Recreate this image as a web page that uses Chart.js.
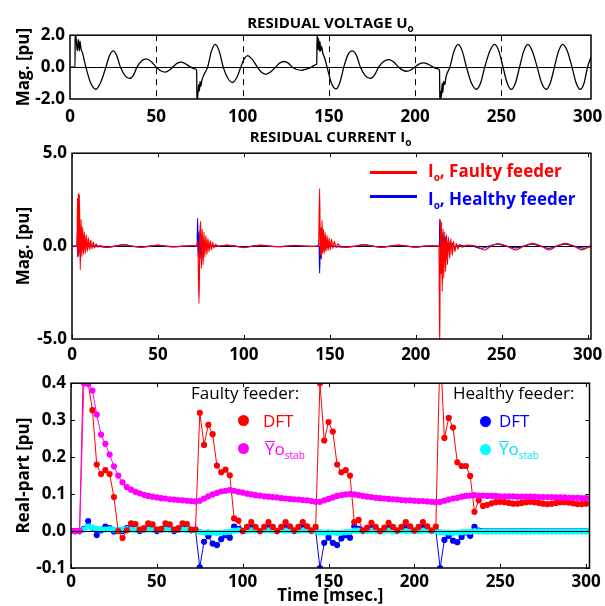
<!DOCTYPE html>
<html>
<head>
<meta charset="utf-8">
<script src="https://cdn.jsdelivr.net/npm/chart.js@4.4.1/dist/chart.umd.min.js"></script>
<style>
html, body { margin: 0; padding: 0; background: #fff; overflow: hidden; }
#wrap { position: relative; width: 605px; height: 606px; overflow: hidden; font-family: 'Open Sans', sans-serif; }
canvas { position: absolute; left: 0; }
.title { position: absolute; left: 70px; width: 521px; text-align: center; font-weight: bold; font-size: 15px; line-height: 15px; color: #000; }
.txt { position: absolute; white-space: nowrap; line-height: 17px; }
sub { font-size: 10px; line-height: 0; vertical-align: -4px; }
.lg2 { font-weight: bold; font-size: 17px; }
.lg3 { font-size: 17px; }
.line { position: absolute; width: 47px; height: 0; border-top: 3px solid; }
.dot { position: absolute; width: 11px; height: 11px; border-radius: 50%; }
.ov { display: inline-block; border-top: 1.5px solid; line-height: 13px; }
</style>
</head>
<body>
<div id="wrap">
  <canvas id="c1" width="640" height="108" style="top:20px"></canvas>
  <canvas id="c2" width="640" height="230" style="top:138px"></canvas>
  <canvas id="c3" width="640" height="238" style="top:368px"></canvas>

  <div class="title" style="top:15px">RESIDUAL VOLTAGE U<sub>o</sub></div>
  <div class="title" style="top:129px">RESIDUAL CURRENT I<sub>o</sub></div>

  <div class="line" style="left:370px; top:171px; border-color:#ff0000"></div>
  <div class="txt lg2" style="left:428px; top:162px; color:#ff0000">I<sub>o</sub>, Faulty feeder</div>
  <div class="line" style="left:370px; top:195px; border-color:#0000ff"></div>
  <div class="txt lg2" style="left:428px; top:190px; color:#0000ff">I<sub>o</sub>, Healthy feeder</div>

  <div class="txt lg3" style="left:191px; top:384px; color:#000">Faulty feeder:</div>
  <div class="dot" style="left:238px; top:415px; background:#ff0000"></div>
  <div class="txt lg3" style="left:263px; top:412px; color:#ff0000">DFT</div>
  <div class="dot" style="left:238px; top:443px; background:#ff00ff"></div>
  <div class="txt lg3" style="left:265px; top:440px; color:#ff00ff"><span class="ov">Y</span>o<sub>stab</sub></div>

  <div class="txt lg3" style="left:453px; top:384px; color:#000">Healthy feeder:</div>
  <div class="dot" style="left:480px; top:416px; background:#0000ff"></div>
  <div class="txt lg3" style="left:499px; top:412px; color:#0000ff">DFT</div>
  <div class="dot" style="left:480px; top:444px; background:#00ffff"></div>
  <div class="txt lg3" style="left:499px; top:440px; color:#00e8f0"><span class="ov">Y</span>o<sub>stab</sub></div>
</div>
<script>
// x axis (time, ms)
const xTicks = [0, 50, 100, 150, 200, 250, 300];
const dashedLines = [50, 100, 150, 200, 250];

// Residual voltage Uo (key points)
const voltT = [0, 2.9, 3.0, 3.5, 4.2, 4.8, 5.4, 5.8, 6.4, 7.2, 8.1, 9.2,
  12, 15, 18, 20.8, 23, 25, 27, 29.2, 32, 34.6, 36.8, 38.8, 41.5, 44.2, 47, 50, 52.5, 55.2, 57.5, 59.6, 62, 64.4, 67, 70,
  72, 73.4, 73.6, 74.2, 74.6, 75.0, 75.4, 75.8, 76.5, 78,
  79.8, 82, 84.2, 86.5, 88.8, 91.5, 94.2, 96.7, 99, 101, 102.9, 105.5, 108.6, 111, 113.5, 116.3, 119.2, 121.5, 124, 126.5, 128.8, 131.5, 134.2, 137, 140,
  142.3, 143, 143.3, 143.7, 144.1, 144.5, 144.9, 145.3, 145.8, 146.5, 147.8,
  149, 151.5, 154.2, 156.5, 158.7, 161, 163.5, 166, 168.3, 171, 174, 176.5, 178.9, 181.8, 184.6, 187.5, 190.4, 192.8, 195.2, 197.5, 199.8, 202.3, 204.8, 207.5, 210.6,
  213, 214.2, 214.4, 214.9, 215.3, 215.7, 216.1, 216.6, 217.2, 218,
  220.2, 222.6, 225, 227.4, 229.8, 232.7, 235.6, 238, 240.4, 243.3, 246.2, 248.6, 251, 253.4, 255.8, 258.2, 260.6, 263, 265.4, 268, 270.8, 273.4, 276, 278.4, 280.8, 283.2, 285.6, 288.3, 291, 293.4, 295.8, 298, 300, 302];
const voltV = [0, 0, 2.3, 1.84, 1.02, 1.73, 1.02, 1.63, 1.12, 0.92, 0.5, 0,
  -1.0, -1.39, -0.9, 0, 0.75, 1.02, 0.75, 0, -0.55, -0.71, -0.5, 0, 0.38, 0.51, 0.35, 0, -0.23, -0.31, -0.2, 0, 0.23, 0.31, 0.2, 0,
  -0.1, -0.2, -2.3, -1.6, -1.1, -1.5, -0.9, -1.2, -0.8, -0.4,
  0, 1.0, 1.43, 1.0, 0, -0.7, -0.96, -0.65, 0, 0.52, 0.72, 0.5, 0, -0.33, -0.45, -0.3, 0, 0.25, 0.35, 0.25, 0, -0.15, -0.2, -0.12, 0,
  0.14, 0.2, 2.3, 1.1, 1.8, 1.0, 1.6, 1.0, 1.3, 0.9, 0.5,
  0, -1.0, -1.37, -0.95, 0, 0.75, 1.02, 0.75, 0, -0.52, -0.71, -0.5, 0, 0.35, 0.47, 0.33, 0, -0.19, -0.26, -0.18, 0, 0.19, 0.27, 0.19, 0,
  -0.1, -0.2, -2.3, -1.5, -1.9, -1.0, -1.6, -0.9, -1.1, -0.6,
  0, 1.0, 1.43, 1.0, 0, -1.0, -1.39, -1.0, 0, 1.0, 1.43, 1.0, 0, -1.0, -1.4, -1.0, 0, 1.0, 1.43, 1.0, 0, -1.0, -1.4, -1.0, 0, 1.0, 1.43, 1.0, 0, -1.0, -1.4, -1.0, 0, 0.65];

// Residual current Io, faulty feeder
const faultyT = [0, 3.0, 3.2, 3.45, 3.7, 4.0, 4.3, 4.8, 5.3, 5.7, 6.2, 6.7, 7.2, 7.7, 8.3, 8.9, 9.5, 10.2, 10.9, 11.6,
  12.4, 13.2, 14.1, 15.0, 16, 17.5, 20, 25, 30, 35, 40, 45, 50, 55, 60, 65, 70,
  72.5, 73.2, 73.9, 74.4, 74.9, 75.3, 75.8, 76.3, 76.8, 77.3, 77.9, 78.5, 79.1, 79.7, 80.4, 81.1, 81.8, 82.6, 83.5, 85,
  90, 95, 100, 105, 110, 115, 120, 125, 130, 135, 140,
  142.5, 143.5, 144.1, 144.5, 144.9, 145.2, 145.5, 145.9, 146.3, 146.8, 147.3, 147.8, 148.4, 149, 149.6, 150.3, 151, 151.8, 152.7, 153.6,
  154.6, 156, 159, 165, 170, 175, 180, 185, 190, 195, 200, 205, 210,
  213.5, 214.0, 214.3, 214.7, 215.0, 215.4, 215.9, 216.3, 216.9, 217.4, 217.9, 218.5, 219.0, 219.8, 220.4, 221.3, 222.0, 222.8, 223.6, 224.6,
  225.6, 227, 230, 235, 240, 244, 247.7, 253, 258.3, 263, 267.9, 273, 277.6, 282, 287.2, 292, 296.8, 302];
const faultyI = [0, 0, 2.6, -0.6, 2.85, -0.4, 2.8, -1.28, 1.44, -0.57, 1.03, -0.45, 0.77, -0.39, 0.6, -0.3, 0.44, -0.2, 0.32, -0.15,
  0.22, -0.1, 0.12, -0.05, 0.03, 0, -0.07, 0, 0.08, 0, -0.07, 0, 0.05, -0.01, -0.04, 0, 0.02,
  0, 0.3, -3.1, 0.5, 1.35, -1.2, 0.9, -1.0, 0.75, -0.6, 0.55, -0.45, 0.4, -0.3, 0.3, -0.2, 0.2, -0.1, 0.1, 0,
  0.05, 0, -0.08, 0, 0.05, 0, -0.03, 0, 0.04, 0, -0.02,
  0, 0.1, 3.1, -0.5, 1.0, -0.65, 1.38, -0.4, 0.9, -0.39, 0.76, -0.3, 0.58, -0.25, 0.45, -0.2, 0.37, -0.12, 0.25, -0.08,
  0.12, 0, -0.06, 0, 0.08, 0, -0.07, 0, 0.05, 0, -0.06, 0, 0.01,
  0, -5.5, 1.44, -1.5, 1.3, -2.44, 0.94, -1.73, 0.77, -1.37, 0.6, -1.0, 0.5, -0.66, 0.4, -0.48, 0.25, -0.3, 0.15, -0.15,
  0.1, -0.05, 0.05, 0.0, -0.21, 0, 0.14, 0, -0.21, 0, 0.15, 0, -0.21, 0, 0.15, 0, -0.2, 0.05];

// Residual current Io, healthy feeder
const healthyT = [0, 2.9, 3.1, 3.35, 3.6, 3.9, 4.2, 4.6, 5.2, 5.8, 6.6, 7.5, 8.5, 10, 12, 15, 20, 25, 30, 35, 40, 45, 50, 55, 60, 65, 70,
  72.8, 73.1, 73.5, 74.0, 74.5, 75.1, 75.7, 76.4, 77.1, 77.9, 79, 80.5, 85, 90, 95, 100, 105, 110, 115, 120, 125, 130, 135, 140,
  143.8, 144.1, 144.5, 145.0, 145.4, 145.9, 146.5, 147.2, 148, 149, 150, 152, 159, 165, 170, 175, 180, 185, 190, 195, 200, 205, 210,
  213.8, 214.0, 214.4, 214.9, 215.4, 215.9, 216.5, 217.2, 218, 219, 220, 221.2, 222.5, 225, 230, 233, 238, 242.8, 247.5, 252.5,
  258, 263, 267.5, 272.5, 277.5, 282, 286.8, 292, 298, 302];
const healthyI = [0, 0, 0.77, -0.57, 0.6, -0.5, 0.3, -0.3, 0.3, -0.2, 0.15, -0.1, 0.08, -0.03, 0.02, 0, -0.07, 0, 0.07, 0, -0.06, 0, 0.04, 0, -0.03, 0, 0.02,
  0, 1.5, -0.6, 0.8, -0.7, 0.4, -0.4, 0.25, -0.2, 0.1, -0.05, 0.02, 0, 0.04, 0, -0.07, 0, 0.04, 0, -0.03, 0, 0.03, 0, -0.02,
  0, -1.45, 0.5, -0.7, 0.67, -0.3, 0.4, -0.2, 0.2, -0.1, 0.05, 0, -0.06, 0, 0.07, 0, -0.06, 0, 0.04, 0, -0.05, 0, 0.01,
  0, 1.45, -0.8, 0.9, -0.6, 0.77, -0.4, 0.5, -0.3, 0.3, -0.15, 0.15, -0.05, 0.03, 0.02, 0, -0.12, 0, 0.1, 0,
  -0.1, 0, 0.1, 0, -0.12, 0, 0.11, 0, -0.11, -0.03];

// Real part estimates, sampled every 2.5 ms
const sampleT = [0, 2.5, 5, 7.5, 10, 12.5, 15, 17.5, 20, 22.5,
  25, 27.5, 30, 32.5, 35, 37.5, 40, 42.5, 45, 47.5,
  50, 52.5, 55, 57.5, 60, 62.5, 65, 67.5, 70, 72.5,
  75, 77.5, 80, 82.5, 85, 87.5, 90, 92.5, 95, 97.5,
  100, 102.5, 105, 107.5, 110, 112.5, 115, 117.5, 120, 122.5,
  125, 127.5, 130, 132.5, 135, 137.5, 140, 142.5, 145, 147.5,
  150, 152.5, 155, 157.5, 160, 162.5, 165, 167.5, 170, 172.5,
  175, 177.5, 180, 182.5, 185, 187.5, 190, 192.5, 195, 197.5,
  200, 202.5, 205, 207.5, 210, 212.5, 215, 217.5, 220, 222.5,
  225, 227.5, 230, 232.5, 235, 237.5, 240, 242.5, 245, 247.5,
  250, 252.5, 255, 257.5, 260, 262.5, 265, 267.5, 270, 272.5,
  275, 277.5, 280, 282.5, 285, 287.5, 290, 292.5, 295, 297.5,
  300];
const faultyDft = [0, 0, 0, 0.5, 0.40, 0.327, 0.18, 0.154, 0.165, 0.154,
  0.092, 0.0, -0.019, 0.002, 0.021, 0.019, 0.004, 0.008, 0.021, 0.018,
  0.004, 0.006, 0.021, 0.018, 0.004, 0.008, 0.021, 0.019, 0.004, 0.004,
  0.32, 0.233, 0.287, 0.262, 0.177, 0.159, 0.166, 0.151, 0.034, 0.028,
  0.0, 0.011, 0.024, 0.011, 0.0, 0.011, 0.024, 0.011, 0.0, 0.011,
  0.024, 0.013, 0.002, 0.011, 0.024, 0.013, 0.002, 0.011, 0.40, 0.245,
  0.295, 0.269, 0.18, 0.159, 0.165, 0.15, 0.024, 0.03, 0.002, 0.009,
  0.022, 0.011, 0.0, 0.009, 0.022, 0.011, 0.002, 0.011, 0.024, 0.013,
  0.002, 0.011, 0.024, 0.013, 0.002, 0.012, 0.5, 0.252, 0.306, 0.28,
  0.186, 0.176, 0.176, 0.149, 0.052, 0.083, 0.068, 0.071, 0.075, 0.078,
  0.079, 0.078, 0.076, 0.074, 0.074, 0.076, 0.078, 0.079, 0.078, 0.076,
  0.074, 0.073, 0.074, 0.076, 0.078, 0.078, 0.077, 0.075, 0.073, 0.073,
  0.074];
const faultyYo = [0, 0, 0, 0.40, 0.398, 0.38, 0.315, 0.261, 0.236, 0.207,
  0.175, 0.15, 0.132, 0.119, 0.112, 0.106, 0.102, 0.098, 0.095, 0.093,
  0.091, 0.089, 0.088, 0.086, 0.085, 0.084, 0.083, 0.082, 0.081, 0.08,
  0.082, 0.088, 0.094, 0.099, 0.103, 0.107, 0.109, 0.111, 0.109, 0.106,
  0.104, 0.101, 0.099, 0.097, 0.096, 0.094, 0.093, 0.092, 0.091, 0.089,
  0.088, 0.087, 0.086, 0.085, 0.084, 0.083, 0.081, 0.079, 0.079, 0.083,
  0.087, 0.091, 0.095, 0.097, 0.099, 0.1, 0.099, 0.097, 0.095, 0.093,
  0.092, 0.09, 0.089, 0.088, 0.087, 0.086, 0.085, 0.084, 0.083, 0.083,
  0.082, 0.081, 0.081, 0.08, 0.079, 0.078, 0.079, 0.082, 0.085, 0.088,
  0.09, 0.093, 0.095, 0.096, 0.097, 0.096, 0.096, 0.095, 0.095, 0.095,
  0.094, 0.094, 0.094, 0.094, 0.093, 0.093, 0.093, 0.093, 0.093, 0.092,
  0.092, 0.092, 0.092, 0.091, 0.091, 0.091, 0.09, 0.09, 0.09, 0.089,
  0.089];
const healthyDft = [0, 0, 0, 0.006, 0.027, 0.008, -0.011, 0.002, 0.012, 0.008,
  -0.001, 0.002, 0.0, 0.008, 0.01, 0.004, 0.0, 0.004, 0.01, 0.008,
  0.0, 0.004, 0.01, 0.008, 0.0, 0.004, 0.01, 0.008, 0.002, 0.004,
  -0.098, -0.029, -0.014, -0.034, -0.038, -0.022, -0.011, -0.018, 0.012, 0.006,
  0.0, 0.004, 0.01, 0.006, 0.0, 0.004, 0.01, 0.006, 0.0, 0.004,
  0.01, 0.006, 0.0, 0.004, 0.01, 0.006, 0.0, 0.002, -0.1, -0.032,
  -0.018, -0.032, -0.038, -0.02, -0.011, -0.018, 0.012, 0.006, 0.0, 0.004,
  0.01, 0.006, 0.0, 0.004, 0.01, 0.006, 0.0, 0.004, 0.01, 0.006,
  0.0, 0.004, 0.01, 0.006, 0.0, 0.002, -0.1, -0.024, -0.013, -0.026,
  -0.03, -0.016, -0.004, -0.013, 0.011, 0.001, 0.0, 0.0, 0.0, 0.0,
  0.0, 0.0, 0.0, 0.0, 0.0, 0.0, 0.0, 0.0, 0.0, 0.0,
  0.0, 0.0, 0.0, 0.0, 0.0, 0.0, 0.0, 0.0, 0.0, 0.0,
  0.0];
const healthyYo = [0, 0, 0, 0.004, 0.012, 0.009, 0.006, 0.005, 0.004, 0.005,
  0.004, 0.003, 0.004, 0.005, 0.004, 0.003, 0.004, 0.005, 0.004, 0.003,
  0.004, 0.005, 0.004, 0.003, 0.004, 0.005, 0.004, 0.003, 0.003, 0.002,
  -0.002, -0.004, -0.003, -0.004, -0.005, -0.004, -0.003, -0.002, 0.001, 0.002,
  0.002, 0.001, 0.002, 0.002, 0.001, 0.002, 0.002, 0.001, 0.002, 0.002,
  0.001, 0.002, 0.002, 0.001, 0.002, 0.002, 0.001, 0.001, -0.003, -0.004,
  -0.003, -0.004, -0.005, -0.004, -0.003, -0.002, 0.001, 0.001, 0.001, 0.0,
  0.001, 0.001, 0.0, 0.001, 0.001, 0.0, 0.001, 0.001, 0.0, 0.001,
  0.001, 0.0, 0.001, 0.001, 0.0, 0.0, -0.003, -0.004, -0.004, -0.005,
  -0.004, -0.003, -0.002, -0.002, 0.0, -0.001, -0.001, -0.001, -0.001, -0.001,
  -0.001, -0.001, -0.001, -0.001, -0.001, -0.001, -0.001, -0.001, -0.001, -0.001,
  -0.001, -0.001, -0.001, -0.001, -0.001, -0.001, -0.001, -0.001, -0.001, -0.001,
  -0.001];

function pts(xs, ys) {
    return xs.map((x, i) => ({ x: x, y: ys[i] }));
}

const tickFont = { family: 'Open Sans', size: 17, weight: 'bold' };
const titleFont = { family: 'Open Sans', size: 17, weight: 'bold' };

// Frame, zero line, dashed grid and inner tick marks
const framePlugin = {
    id: 'frame',
    beforeDatasetsDraw(chart, args, o) {
        const ctx = chart.ctx, a = chart.chartArea, x = chart.scales.x, y = chart.scales.y;
        ctx.save();
        ctx.strokeStyle = '#000';
        ctx.lineWidth = 1;
        if (o.dashed) {
            ctx.setLineDash([6, 5]);
            o.dashed.forEach(v => {
                const px = Math.round(x.getPixelForValue(v)) + 0.5;
                ctx.beginPath(); ctx.moveTo(px, a.top); ctx.lineTo(px, a.bottom); ctx.stroke();
            });
            ctx.setLineDash([]);
        }
        if (!o.zeroOnTop) {
            const py = Math.round(y.getPixelForValue(0)) + 0.5;
            ctx.beginPath(); ctx.moveTo(a.left, py); ctx.lineTo(a.right, py); ctx.stroke();
        }
        ctx.restore();
    },
    afterDatasetsDraw(chart, args, o) {
        const ctx = chart.ctx, a = chart.chartArea, x = chart.scales.x, y = chart.scales.y;
        ctx.save();
        ctx.strokeStyle = '#000';
        ctx.lineWidth = 1;
        if (o.zeroOnTop) {
            const py = Math.round(y.getPixelForValue(0)) + 0.5;
            ctx.beginPath(); ctx.moveTo(a.left, py); ctx.lineTo(a.right, py); ctx.stroke();
        }
        const len = 4;
        const t = o.ticks || {};
        xTicks.forEach(v => {
            const px = Math.round(x.getPixelForValue(v)) + 0.5;
            if (t.top) { ctx.beginPath(); ctx.moveTo(px, a.top); ctx.lineTo(px, a.top + len); ctx.stroke(); }
            if (t.bottom) { ctx.beginPath(); ctx.moveTo(px, a.bottom); ctx.lineTo(px, a.bottom - len); ctx.stroke(); }
        });
        (o.yTicks || []).forEach(v => {
            const py = Math.round(y.getPixelForValue(v)) + 0.5;
            if (t.left) { ctx.beginPath(); ctx.moveTo(a.left, py); ctx.lineTo(a.left + len, py); ctx.stroke(); }
            if (t.right) { ctx.beginPath(); ctx.moveTo(a.right, py); ctx.lineTo(a.right - len, py); ctx.stroke(); }
        });
        ctx.lineWidth = 1.5;
        ctx.strokeRect(a.left, a.top, a.right - a.left, a.bottom - a.top);
        ctx.restore();
    }
};

function makePanel(id, p, datasets) {
    const canvas = document.getElementById(id);
    const canvasTop = parseFloat(canvas.style.top);
    new Chart(canvas, {
        type: 'line',
        data: { datasets: datasets },
        plugins: [framePlugin],
        options: {
            responsive: false,
            animation: false,
            events: [],
            layout: { padding: { left: 0, top: p.top - canvasTop, right: canvas.width - p.right, bottom: 0 } },
            plugins: {
                legend: { display: false },
                tooltip: { enabled: false },
                frame: p.frame
            },
            scales: {
                x: {
                    type: 'linear', min: 0, max: 302,
                    grid: { display: false, drawTicks: false },
                    border: { display: false },
                    ticks: { font: tickFont, color: '#000', padding: p.xPad, maxRotation: 0, autoSkip: false },
                    afterBuildTicks: s => { s.ticks = xTicks.map(v => ({ value: v })); },
                    afterFit: s => { s.height = canvasTop + canvas.height - p.bottom; },
                    title: p.xTitle
                        ? { display: true, text: p.xTitle, font: titleFont, color: '#000', padding: { top: 0, bottom: 0 } }
                        : { display: false }
                },
                y: {
                    type: 'linear', min: p.yMin, max: p.yMax,
                    grid: { display: false, drawTicks: false },
                    border: { display: false },
                    ticks: { font: tickFont, color: '#000', padding: 5, callback: v => v.toFixed(1) },
                    afterBuildTicks: s => { s.ticks = p.yTicks.map(v => ({ value: v })); },
                    afterFit: s => { s.width = p.left; },
                    title: { display: true, text: p.yTitle, font: titleFont, color: '#000', padding: { top: 14, bottom: 0 } }
                }
            }
        }
    });
}

// Panel 1: residual voltage
makePanel('c1', {
    top: 34, bottom: 99, left: 70, right: 591, yMin: -2, yMax: 2, yTicks: [-2, 0, 2],
    xPad: 8, yTitle: 'Mag. [pu]',
    frame: { dashed: dashedLines, zeroOnTop: true }
}, [{
    data: pts(voltT, voltV), borderColor: '#000', borderWidth: 1.3,
    pointRadius: 0, cubicInterpolationMode: 'monotone'
}]);

// Panel 2: residual current
makePanel('c2', {
    top: 151, bottom: 339, left: 72, right: 591, yMin: -5, yMax: 5, yTicks: [-5, 0, 5],
    xPad: 6, yTitle: 'Mag. [pu]',
    frame: { zeroOnTop: false, ticks: { top: true, bottom: true } }
}, [{
    label: 'Io, Faulty feeder', data: pts(faultyT, faultyI), borderColor: '#ff0000', borderWidth: 1.2,
    pointRadius: 0, cubicInterpolationMode: 'monotone'
}, {
    label: 'Io, Healthy feeder', data: pts(healthyT, healthyI), borderColor: '#0000ff', borderWidth: 1.2,
    pointRadius: 0, cubicInterpolationMode: 'monotone'
}]);

// Panel 3: real part
const p3Ticks = [-0.1, 0, 0.1, 0.2, 0.3, 0.4];
function dotted(label, values, color) {
    return {
        label: label, data: pts(sampleT, values), borderColor: color, backgroundColor: color,
        borderWidth: 1, pointRadius: 3.1, pointBorderWidth: 0, pointBackgroundColor: color, tension: 0
    };
}
makePanel('c3', {
    top: 380, bottom: 568, left: 71, right: 589.5, yMin: -0.1, yMax: 0.4, yTicks: p3Ticks,
    xPad: 4, yTitle: 'Real-part [pu]', xTitle: 'Time [msec.]',
    frame: { zeroOnTop: true, ticks: { top: true, bottom: true, left: true, right: true }, yTicks: p3Ticks }
}, [
    dotted('Faulty Yo stab', faultyYo, '#ff00ff'),
    dotted('Faulty DFT', faultyDft, '#ff0000'),
    dotted('Healthy Yo stab', healthyYo, '#00ffff'),
    dotted('Healthy DFT', healthyDft, '#0000ff')
]);
</script>
</body>
</html>
